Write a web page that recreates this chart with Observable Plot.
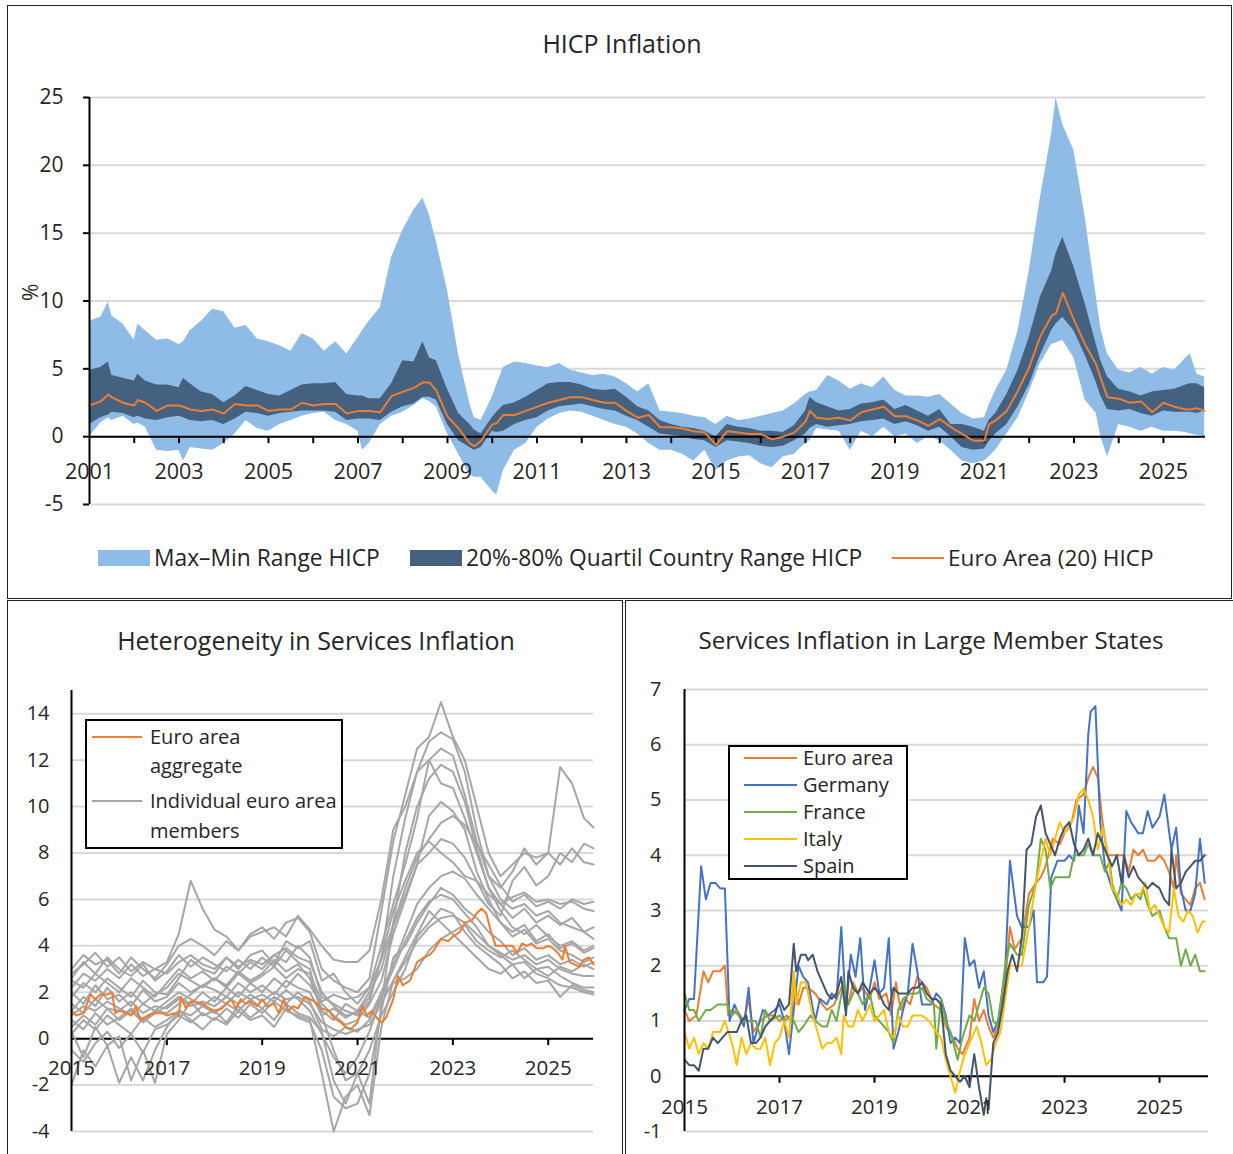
<!DOCTYPE html>
<html><head><meta charset="utf-8">
<script src="https://cdn.jsdelivr.net/npm/d3@7"></script>
<script src="https://cdn.jsdelivr.net/npm/@observablehq/plot@0.6"></script>
<style>
body{margin:0;background:#fff;}
#page{position:relative;width:1233px;height:1154px;overflow:hidden;background:#fff;font-family:'Segoe UI','Open Sans','Noto Sans',sans-serif;color:#262626;}
.abs{position:absolute;}
.box{position:absolute;box-sizing:border-box;border:1px solid #222;}
.txt{position:absolute;white-space:nowrap;}
</style></head>
<body><div id="page"></div>
<script>
// ---------- TOP PANEL: HICP inflation (decimal years) ----------
const topX = [
 2001.0,2001.25,2001.42,2001.5,2001.75,
 2002.0,2002.08,2002.25,2002.5,2002.75,
 2003.0,2003.1,2003.25,2003.5,2003.75,
 2004.0,2004.25,2004.5,2004.75,
 2005.0,2005.25,2005.5,2005.75,
 2006.0,2006.25,2006.5,2006.75,
 2007.0,2007.1,2007.25,2007.5,2007.75,
 2008.0,2008.25,2008.45,2008.6,2008.75,
 2009.0,2009.25,2009.5,2009.6,2009.75,
 2010.0,2010.1,2010.25,2010.5,2010.75,
 2011.0,2011.25,2011.5,2011.75,
 2012.0,2012.25,2012.5,2012.75,
 2013.0,2013.25,2013.5,2013.75,
 2014.0,2014.25,2014.5,2014.75,
 2015.0,2015.25,2015.5,2015.75,
 2016.0,2016.25,2016.5,2016.75,
 2017.0,2017.1,2017.25,2017.5,2017.75,
 2018.0,2018.25,2018.5,2018.75,
 2019.0,2019.25,2019.5,2019.75,
 2020.0,2020.25,2020.5,2020.75,
 2021.0,2021.1,2021.25,2021.5,2021.75,
 2022.0,2022.25,2022.5,2022.6,2022.75,
 2023.0,2023.25,2023.5,2023.6,2023.75,
 2024.0,2024.25,2024.5,2024.75,
 2025.0,2025.25,2025.5,2025.6,2025.75,2025.92];
const topMax = [
 8.5,8.8,9.9,8.9,8.3,
 7.1,8.3,7.8,7.1,7.2,
 6.8,7.0,7.8,8.5,9.4,
 9.2,8.0,8.2,7.2,
 7.0,6.7,6.3,7.6,
 7.2,6.3,7.0,6.1,
 7.3,7.8,8.5,9.5,13.2,
 15.2,16.7,17.6,16.3,14.4,
 10.8,6.0,2.4,1.4,1.2,
 2.9,3.8,5.1,5.5,5.4,
 5.2,5.1,5.4,4.9,
 4.7,4.5,4.6,4.4,
 3.9,3.3,3.9,1.9,
 1.8,1.7,1.5,1.4,
 0.9,1.5,1.2,1.3,
 1.5,1.7,1.9,2.4,
 3.1,3.3,3.4,4.5,4.1,
 3.5,3.9,3.6,4.4,
 3.4,3.0,3.0,2.9,
 3.1,2.4,1.7,1.3,
 1.4,2.3,3.4,4.9,7.8,
 12.2,17.6,22.3,25.0,23.0,
 21.1,16.2,10.3,8.0,6.1,
 4.9,4.7,5.1,4.6,
 5.1,4.9,5.8,6.1,4.6,4.4];
const topP80 = [
 4.9,5.1,5.5,4.5,4.3,
 4.1,4.6,4.1,3.8,3.8,
 3.6,4.3,3.9,3.3,3.1,
 2.5,3.0,3.7,3.4,
 3.1,3.0,3.4,3.8,
 3.9,3.9,4.0,3.1,
 3.0,3.0,2.8,2.8,3.9,
 5.6,5.5,7.0,5.8,5.6,
 3.5,1.7,0.9,0.5,0.2,
 1.4,1.8,2.3,2.5,2.9,
 3.4,3.9,4.0,4.0,
 3.8,3.5,3.4,3.5,
 2.9,2.2,1.9,1.2,
 0.9,0.7,0.6,0.4,
 0.0,0.9,0.7,0.6,
 0.4,0.4,0.3,0.8,
 1.9,2.9,2.5,2.2,1.9,
 2.0,2.4,2.5,2.7,
 2.0,2.3,1.9,1.5,
 2.0,0.9,0.9,0.7,
 0.4,1.2,1.7,3.1,4.9,
 7.3,10.3,12.2,13.5,14.7,
 12.5,9.8,6.8,5.6,4.4,
 3.5,3.3,3.0,3.3,
 3.4,3.5,3.8,3.9,3.9,3.6];
const topEA = [
 2.3,2.6,3.1,2.9,2.5,
 2.3,2.7,2.5,1.9,2.3,
 2.3,2.2,2.0,1.9,2.0,
 1.7,2.4,2.3,2.3,
 1.9,2.0,2.0,2.5,
 2.3,2.4,2.4,1.7,
 1.9,1.9,1.9,1.8,3.0,
 3.3,3.6,4.0,4.0,3.4,
 1.5,0.6,-0.5,-0.7,-0.3,
 0.9,1.0,1.6,1.6,1.9,
 2.2,2.5,2.7,2.9,
 2.9,2.7,2.5,2.5,
 1.9,1.4,1.6,0.7,
 0.7,0.6,0.4,0.3,
 -0.6,0.4,0.3,0.2,
 0.2,-0.2,0.0,0.3,
 1.1,1.9,1.4,1.3,1.4,
 1.2,1.8,2.0,2.2,
 1.5,1.5,1.2,0.8,
 1.3,0.7,0.2,-0.3,
 -0.3,0.9,1.2,1.9,3.4,
 5.1,7.4,8.9,9.1,10.6,
 8.6,6.8,5.3,4.3,2.9,
 2.8,2.5,2.6,1.8,
 2.5,2.2,2.0,2.0,2.1,1.9];
const topP20 = [
 0.9,1.4,1.6,1.8,1.7,
 1.4,1.5,1.3,1.2,1.4,
 1.5,1.4,1.2,1.1,1.2,
 0.9,1.3,1.8,1.7,
 1.5,1.7,1.8,1.9,
 1.9,1.9,1.8,1.2,
 1.3,1.3,1.3,1.2,1.8,
 2.2,2.4,2.9,2.9,2.7,
 0.9,-0.3,-0.8,-1.0,-0.8,
 0.4,0.3,0.4,0.9,1.2,
 1.4,1.9,2.2,2.3,
 2.4,2.2,2.0,1.9,
 1.5,1.2,0.7,0.2,
 0.1,0.0,-0.2,-0.3,
 -0.8,-0.3,-0.4,-0.5,
 -0.7,-0.8,-0.7,-0.3,
 0.2,0.6,0.9,0.7,0.8,
 0.9,1.1,1.2,1.3,
 0.9,1.1,0.8,0.4,
 0.7,0.0,-0.8,-1.0,
 -0.9,-0.4,0.2,0.9,2.2,
 3.8,6.0,7.8,8.3,8.8,
 7.8,6.0,4.0,3.0,2.0,
 1.9,2.0,1.7,1.5,
 1.9,1.8,1.8,1.8,1.7,1.9];
const topMin = [
 0.0,1.0,1.4,1.2,1.5,
 0.9,1.0,0.7,-1.0,-1.1,
 -1.0,-1.8,-0.8,-0.9,-1.0,
 -0.5,0.2,1.2,0.6,
 0.4,0.9,1.2,1.5,
 1.7,1.8,1.2,0.9,
 0.4,-1.0,-0.5,0.9,1.5,
 1.8,2.3,2.8,2.6,2.2,
 0.2,-1.3,-2.8,-3.0,-3.0,
 -4.0,-4.3,-2.5,-1.0,-0.5,
 0.7,1.3,1.7,1.9,
 1.8,1.5,1.2,0.9,
 0.7,0.2,-0.5,-1.0,
 -1.0,-1.3,-1.8,-1.0,
 -2.5,-1.8,-1.5,-1.4,
 -2.0,-2.3,-1.5,-1.3,
 -0.5,-0.3,0.6,0.5,0.4,
 -1.0,0.4,0.0,0.7,
 0.0,0.2,-0.5,0.0,
 -0.3,-1.0,-1.8,-2.0,
 -1.8,-1.5,-1.0,0.2,1.4,
 3.3,5.4,6.8,6.9,7.1,
 5.8,2.7,1.7,0.0,-1.5,
 0.9,0.7,0.4,0.7,
 0.4,0.4,0.3,0.2,0.1,0.0];
const topYTicks = [-5, 0, 5, 10, 15, 20, 25];
const topTickYears = [2002,2003,2004,2005,2006,2007,2008,2009,2010,2011,2012,2013,2014,2015,2016,2017,2018,2019,2020,2021,2022,2023,2024,2025];
const topLabelYears = [2001,2003,2005,2007,2009,2011,2013,2015,2017,2019,2021,2023,2025];

// ---------- BOTTOM: services inflation ----------
const svcYTicksL = [-4,-2,0,2,4,6,8,10,12,14];
const svcYTicksR = [-1,0,1,2,3,4,5,6,7];
const svcLabelYears = [2015,2017,2019,2021,2023,2025];
const svcTickYears = [2017,2019,2021,2023,2025];

// Euro area services inflation [year, %]
const eaServices = [[2015.0,1.2],[2015.1,1.0],[2015.25,1.1],[2015.4,1.9],[2015.5,1.7],[2015.6,1.9],[2015.75,1.9],[2015.85,2.0],[2015.92,1.1],[2016.0,1.2],[2016.15,1.1],[2016.25,1.0],[2016.35,1.4],[2016.45,0.8],[2016.6,1.0],[2016.75,1.1],[2016.9,1.1],[2017.0,1.0],[2017.15,1.1],[2017.25,1.0],[2017.3,1.8],[2017.4,1.3],[2017.5,1.6],[2017.6,1.6],[2017.75,1.5],[2017.9,1.3],[2018.0,1.2],[2018.15,1.3],[2018.25,1.5],[2018.35,1.7],[2018.45,1.3],[2018.55,1.7],[2018.65,1.5],[2018.75,1.6],[2018.9,1.4],[2019.0,1.7],[2019.1,1.4],[2019.25,1.5],[2019.35,1.1],[2019.45,1.7],[2019.55,1.2],[2019.65,1.4],[2019.75,1.3],[2019.9,1.8],[2020.0,1.7],[2020.1,1.6],[2020.25,1.3],[2020.4,1.2],[2020.5,0.9],[2020.65,0.7],[2020.75,0.5],[2020.85,0.4],[2021.0,0.7],[2021.1,1.4],[2021.2,1.0],[2021.3,1.2],[2021.4,0.9],[2021.5,0.7],[2021.6,0.9],[2021.75,1.7],[2021.85,2.7],[2021.95,2.3],[2022.1,2.5],[2022.25,3.3],[2022.4,3.5],[2022.5,3.6],[2022.6,3.8],[2022.75,4.3],[2022.9,4.2],[2023.0,4.4],[2023.15,4.6],[2023.25,5.0],[2023.4,5.1],[2023.5,5.4],[2023.6,5.6],[2023.7,5.4],[2023.8,4.6],[2023.9,4.0],[2024.0,4.0],[2024.25,4.0],[2024.35,3.7],[2024.45,4.1],[2024.55,4.0],[2024.65,4.1],[2024.75,3.9],[2024.9,3.9],[2025.0,4.0],[2025.1,3.9],[2025.2,3.7],[2025.3,3.4],[2025.35,4.0],[2025.45,3.3],[2025.55,3.2],[2025.65,3.1],[2025.75,3.4],[2025.85,3.5],[2025.95,3.2]];

// Individual members: quarterly 2015Q1..2025Q4 + Dec 2025
const memberX = [2015,2015.25,2015.5,2015.75,2016,2016.25,2016.5,2016.75,2017,2017.25,2017.5,2017.75,2018,2018.25,2018.5,2018.75,2019,2019.25,2019.5,2019.75,2020,2020.25,2020.5,2020.75,2021,2021.25,2021.5,2021.75,2022,2022.25,2022.5,2022.75,2023,2023.25,2023.5,2023.75,2024,2024.25,2024.5,2024.75,2025,2025.25,2025.5,2025.75,2025.95];
const member01 = [3.0,3.6,3.2,3.4, 2.8,3.5,3.0,2.6, 3.2,4.0,4.3,4.0, 3.6,4.2,3.8,4.5, 4.8,4.3,5.0,5.2, 4.6,3.0,2.5,2.2, 2.0,2.6,5.5,8.5, 10.5,12.5,13.0,14.5, 13.0,12.0,10.0,8.0, 7.0,7.5,8.0,7.8, 8.0,7.5,8.2,7.6, 7.5];
const member02 = [2.5,2.2,2.8,2.4, 2.0,2.6,2.2,1.8, 2.4,3.0,2.6,2.9, 2.5,3.1,2.8,3.3, 3.0,3.6,3.3,4.0, 3.5,1.8,1.5,1.2, 1.0,1.6,3.5,7.0, 9.5,11.5,12.8,13.2, 12.9,11.5,9.0,7.0, 6.0,5.6,5.8,5.3, 5.5,5.0,4.8,4.6, 4.3];
const member03 = [1.8,2.4,2.0,2.6, 2.2,1.8,2.5,2.0, 1.9,2.6,3.4,3.0, 2.8,3.5,3.0,3.6, 3.8,3.2,4.2,3.9, 4.2,2.5,2.8,2.0, 1.5,2.2,4.0,5.8, 7.5,9.5,12.0,12.5, 12.2,10.5,8.5,7.0, 6.5,7.2,8.2,7.5, 8.0,11.7,11.0,9.5, 9.1];
const member04 = [2.8,3.2,3.7,3.1, 3.5,2.9,3.3,3.0, 3.3,4.5,6.8,5.6, 4.7,4.4,3.8,4.4, 4.6,4.8,4.4,5.3, 4.7,4.0,3.4,3.3, 3.3,3.8,6.0,9.0, 10.0,11.5,12.0,11.0, 10.8,9.5,8.0,6.5, 5.8,5.2,5.6,5.0, 5.3,4.9,5.2,4.6, 4.8];
const member05 = [1.2,1.8,1.4,2.2, 1.6,2.0,1.5,1.9, 2.2,2.8,2.5,2.2, 2.6,2.3,2.9,2.5, 2.8,3.4,2.9,3.2, 2.6,1.2,0.8,1.5, 1.2,2.0,3.0,4.8, 6.2,7.5,9.6,10.2, 9.8,9.0,7.2,6.0, 5.0,4.6,4.9,4.2, 4.5,3.9,4.1,3.7, 3.9];
const member06 = [0.5,1.0,0.6,1.3, 0.8,1.2,0.7,1.1, 1.4,1.8,1.5,2.0, 1.6,2.2,1.8,2.4, 2.0,2.6,2.2,2.8, 2.3,1.5,1.0,0.6, 0.8,1.5,2.5,4.5, 6.0,7.5,8.0,8.6, 8.4,7.8,6.8,5.8, 5.3,6.8,7.4,6.6, 7.0,8.0,7.6,8.4, 8.2];
const member07 = [2.0,1.5,2.3,1.7, 1.9,1.4,2.1,1.6, 1.8,2.4,2.0,2.3, 2.1,1.8,2.4,2.0, 2.3,1.9,2.5,2.2, 2.0,1.0,1.3,0.9, 1.2,0.9,2.0,3.2, 4.5,5.8,6.5,7.0, 7.2,6.9,6.2,5.6, 5.0,4.4,4.7,4.1, 4.3,3.8,3.6,3.3, 3.5];
const member08 = [0.2,0.8,0.4,1.0, 0.6,0.2,0.9,0.5, 0.8,1.2,1.0,1.4, 1.1,1.5,1.2,1.7, 1.3,1.8,1.5,2.0, 1.6,0.4,0.1,0.5, 0.3,0.8,1.8,3.0, 4.2,5.2,5.9,6.2, 6.0,5.4,4.8,4.0, 3.6,3.2,3.3,2.8, 2.6,2.3,2.2,2.0, 1.9];
const member09 = [-0.5,-1.0,-0.2,0.3, -0.4,0.2,-0.6,0.4, 0.6,1.0,0.7,1.1, 0.8,1.3,0.9,1.5, 1.1,1.6,1.2,1.0, 0.8,-1.5,-4.0,-2.5, -2.0,-3.3,0.5,2.5, 3.5,4.5,5.5,5.0, 4.5,4.0,3.5,3.0, 2.8,3.2,2.6,3.0, 2.7,3.1,2.9,3.2, 3.0];
const member10 = [-2.0,-0.5,-1.2,-0.3, -1.9,-0.8,-1.8,-0.5, 0.5,1.2,0.8,0.4, 0.9,0.6,1.2,0.8, 1.0,0.5,1.3,0.9, 0.7,-0.5,-2.5,-3.0, -2.8,-1.5,1.2,3.5, 4.0,5.0,5.8,6.5, 6.2,5.6,5.2,4.6, 4.2,3.6,3.9,3.4, 3.6,3.2,3.4,3.1, 3.3];
const member11 = [1.5,1.1,1.7,1.3, 1.2,1.6,1.1,1.4, 1.3,1.7,1.4,1.6, 1.4,1.8,1.5,1.9, 1.6,2.0,1.7,1.8, 1.5,0.7,0.4,0.2, 0.4,0.6,1.5,2.5, 3.3,4.2,4.8,5.2, 5.3,5.0,4.5,4.0, 3.7,3.4,3.6,3.2, 3.4,3.0,2.8,2.7, 2.7];
const member12 = [2.2,2.8,2.5,3.0, 2.6,3.2,2.7,3.0, 2.8,3.3,3.6,3.2, 3.0,3.5,3.1,3.4, 3.2,3.6,3.9,3.5, 3.3,2.0,1.4,1.0, 1.1,1.8,3.5,5.5, 6.8,8.0,8.5,8.0, 7.6,7.0,6.8,6.2, 5.8,6.1,6.3,5.9, 6.0,5.8,5.9,5.6, 5.5];
const member13 = [1.0,1.4,1.2,1.6, 1.3,1.0,1.5,1.2, 1.6,2.0,1.7,1.4, 1.8,1.5,2.0,1.7, 1.9,1.6,2.1,1.7, 1.2,0.2,-0.8,-1.5, -0.8,0.3,1.8,2.4, 2.6,3.0,3.8,4.3, 4.6,4.9,4.2,3.8, 3.5,3.8,3.4,3.0, 3.1,2.7,2.4,2.2, 2.2];
const member14 = [0.8,0.4,1.1,0.6, 0.9,1.3,0.8,1.2, 1.1,1.5,1.9,2.3, 2.6,2.2,2.8,2.4, 2.7,3.1,2.6,3.0, 2.8,1.6,1.9,1.7, 1.8,2.2,3.4,4.9, 6.5,7.8,8.6,9.3, 9.6,9.2,8.4,7.5, 6.6,5.9,6.2,5.7, 5.9,5.6,6.0,5.8, 5.9];
const member15 = [2.6,3.3,2.8,3.5, 3.0,2.7,3.2,2.5, 2.9,3.6,3.1,3.5, 3.2,2.9,3.4,3.0, 3.5,3.1,3.8,3.3, 3.0,1.0,-0.5,-1.8, -1.5,-2.8,1.5,5.0, 8.0,10.0,11.2,11.8, 11.5,10.2,8.2,6.5, 5.5,4.8,4.5,4.9, 4.4,4.0,4.2,3.8, 4.0];
const member16 = [0.3,-0.8,0.5,-0.3, 0.1,-1.8,-0.5,-1.9, 0.2,0.8,1.6,1.0, 1.2,0.7,1.4,0.9, 1.3,0.8,1.5,1.1, 0.9,0.3,-1.8,-2.8, -1.5,-0.5,1.0,2.0, 3.0,4.4,5.0,5.6, 5.4,4.6,4.0,3.6, 3.2,2.6,2.9,2.4, 2.5,1.8,2.3,2.1, 2.0];
const members = [member01,member02,member03,member04,member05,member06,member07,member08,member09,member10,member11,member12,member13,member14,member15,member16];

// Large member states [year, %]
const germany = [[2015.0,1.2],[2015.1,1.4],[2015.2,1.4],[2015.35,3.8],[2015.45,3.2],[2015.55,3.5],[2015.65,3.5],[2015.75,3.4],[2015.85,3.4],[2015.95,1.0],[2016.05,1.3],[2016.15,1.1],[2016.25,0.9],[2016.35,1.6],[2016.45,0.6],[2016.55,0.9],[2016.65,1.2],[2016.75,1.1],[2016.9,1.2],[2017.0,1.3],[2017.1,1.0],[2017.2,0.4],[2017.3,1.2],[2017.4,2.0],[2017.5,1.8],[2017.6,1.7],[2017.75,1.0],[2017.85,1.4],[2018.0,1.3],[2018.1,1.5],[2018.2,1.4],[2018.3,2.7],[2018.4,1.2],[2018.5,2.2],[2018.6,1.8],[2018.7,2.5],[2018.8,1.2],[2018.9,1.6],[2019.0,2.1],[2019.1,1.5],[2019.2,1.6],[2019.3,2.5],[2019.4,0.5],[2019.5,0.8],[2019.6,1.2],[2019.7,1.5],[2019.8,2.4],[2019.9,1.9],[2020.0,1.3],[2020.2,1.3],[2020.3,1.5],[2020.4,1.4],[2020.5,1.1],[2020.6,0.6],[2020.7,0.7],[2020.8,0.6],[2020.9,2.5],[2021.0,2.0],[2021.1,2.1],[2021.2,1.6],[2021.3,1.9],[2021.4,1.1],[2021.5,0.8],[2021.6,1.0],[2021.75,1.9],[2021.85,3.9],[2022.0,2.9],[2022.1,2.7],[2022.25,2.7],[2022.35,3.0],[2022.42,1.7],[2022.55,1.7],[2022.63,1.8],[2022.72,3.6],[2022.85,3.9],[2023.0,3.9],[2023.1,4.0],[2023.2,3.9],[2023.3,4.9],[2023.4,4.4],[2023.5,6.2],[2023.55,6.6],[2023.65,6.7],[2023.75,4.6],[2023.85,3.8],[2024.0,3.4],[2024.1,3.2],[2024.2,3.0],[2024.3,4.8],[2024.4,4.6],[2024.55,4.4],[2024.65,4.4],[2024.75,4.8],[2024.85,4.5],[2025.0,4.7],[2025.1,5.1],[2025.25,4.1],[2025.35,4.5],[2025.45,3.4],[2025.55,3.0],[2025.65,3.0],[2025.75,3.3],[2025.85,4.3],[2025.95,3.5]];
const france = [[2015.0,1.5],[2015.1,1.2],[2015.2,1.2],[2015.3,1.0],[2015.45,1.2],[2015.55,1.2],[2015.7,1.3],[2015.9,1.3],[2016.0,1.1],[2016.1,1.2],[2016.25,1.0],[2016.4,1.0],[2016.5,1.0],[2016.6,0.7],[2016.7,1.2],[2016.8,1.0],[2017.0,1.1],[2017.1,1.0],[2017.25,1.1],[2017.4,0.8],[2017.5,0.9],[2017.65,1.1],[2017.75,1.0],[2017.9,0.9],[2018.0,0.9],[2018.1,1.2],[2018.2,1.0],[2018.35,1.7],[2018.45,1.3],[2018.6,1.6],[2018.75,1.3],[2018.9,1.5],[2019.0,1.1],[2019.1,1.0],[2019.2,0.9],[2019.3,0.8],[2019.4,0.6],[2019.5,1.2],[2019.6,1.4],[2019.75,1.5],[2019.9,1.5],[2020.0,1.6],[2020.1,1.4],[2020.25,1.3],[2020.3,0.5],[2020.4,1.4],[2020.5,1.0],[2020.6,0.8],[2020.75,0.3],[2020.85,0.7],[2021.0,1.1],[2021.1,1.0],[2021.2,1.3],[2021.3,1.6],[2021.4,1.5],[2021.5,1.0],[2021.6,0.9],[2021.75,2.0],[2021.85,2.4],[2022.0,2.2],[2022.1,2.2],[2022.25,3.1],[2022.4,3.5],[2022.5,4.3],[2022.6,4.1],[2022.7,3.4],[2022.8,3.6],[2023.0,3.6],[2023.1,3.6],[2023.2,4.0],[2023.4,4.0],[2023.5,4.2],[2023.6,4.0],[2023.75,4.0],[2023.85,3.7],[2023.95,3.9],[2024.0,3.5],[2024.1,3.2],[2024.2,3.5],[2024.3,3.4],[2024.4,3.2],[2024.5,3.3],[2024.6,3.2],[2024.65,3.4],[2024.75,3.1],[2024.85,2.9],[2025.0,3.0],[2025.1,2.7],[2025.2,2.5],[2025.35,2.5],[2025.45,2.0],[2025.55,2.3],[2025.65,2.0],[2025.75,2.2],[2025.85,1.9],[2025.95,1.9]];
const italy = [[2015.0,0.8],[2015.1,0.5],[2015.2,0.7],[2015.3,0.4],[2015.4,0.6],[2015.5,0.5],[2015.6,0.8],[2015.75,0.8],[2015.85,1.0],[2016.0,0.6],[2016.1,0.2],[2016.2,0.7],[2016.3,0.4],[2016.4,0.6],[2016.5,0.5],[2016.6,0.5],[2016.7,0.7],[2016.8,0.2],[2016.9,0.6],[2017.0,0.7],[2017.1,1.0],[2017.2,0.7],[2017.3,1.9],[2017.35,1.3],[2017.45,1.7],[2017.55,1.7],[2017.7,1.1],[2017.8,0.8],[2017.9,0.5],[2018.0,0.6],[2018.1,0.6],[2018.2,0.7],[2018.3,0.4],[2018.35,1.1],[2018.45,0.9],[2018.55,0.9],[2018.65,1.2],[2018.75,1.0],[2018.9,1.3],[2019.0,1.0],[2019.1,1.1],[2019.2,1.2],[2019.3,0.8],[2019.4,0.7],[2019.5,1.1],[2019.6,0.9],[2019.7,0.9],[2019.8,1.1],[2020.0,1.1],[2020.15,1.0],[2020.3,0.8],[2020.4,0.7],[2020.5,0.3],[2020.6,0.0],[2020.7,-0.3],[2020.8,0.1],[2020.9,0.4],[2021.0,0.6],[2021.15,0.9],[2021.25,0.6],[2021.35,0.2],[2021.45,0.3],[2021.55,0.6],[2021.65,0.8],[2021.75,1.4],[2021.85,2.0],[2022.0,2.0],[2022.1,2.0],[2022.25,2.7],[2022.4,3.5],[2022.5,3.9],[2022.6,4.3],[2022.7,4.0],[2022.8,4.3],[2022.9,4.6],[2023.0,4.4],[2023.1,4.5],[2023.2,4.7],[2023.3,5.1],[2023.4,5.2],[2023.5,5.0],[2023.6,4.7],[2023.7,4.1],[2023.8,4.5],[2023.9,4.1],[2024.0,3.4],[2024.1,3.3],[2024.2,3.1],[2024.3,3.2],[2024.4,3.1],[2024.5,3.3],[2024.6,3.3],[2024.7,3.5],[2024.8,3.0],[2024.9,3.1],[2025.0,2.9],[2025.1,2.7],[2025.2,2.6],[2025.3,3.4],[2025.4,2.9],[2025.5,2.8],[2025.6,3.0],[2025.7,2.9],[2025.8,2.6],[2025.9,2.8],[2025.95,2.8]];
const spain = [[2015.0,0.3],[2015.1,0.2],[2015.2,0.2],[2015.3,0.1],[2015.4,0.5],[2015.5,0.5],[2015.6,0.7],[2015.7,0.6],[2015.8,0.7],[2015.9,0.8],[2016.0,0.8],[2016.1,0.8],[2016.2,1.0],[2016.3,1.1],[2016.4,0.6],[2016.5,0.6],[2016.6,0.7],[2016.7,0.9],[2016.8,1.0],[2016.9,1.1],[2017.0,1.4],[2017.1,1.2],[2017.2,1.3],[2017.3,2.4],[2017.35,1.9],[2017.45,2.2],[2017.55,2.2],[2017.6,2.1],[2017.7,2.2],[2017.8,1.9],[2017.9,1.7],[2018.0,1.5],[2018.1,1.4],[2018.2,1.5],[2018.3,1.8],[2018.4,1.1],[2018.45,1.9],[2018.55,1.6],[2018.65,1.5],[2018.75,1.7],[2018.9,1.5],[2019.0,1.6],[2019.1,1.5],[2019.2,1.3],[2019.3,1.2],[2019.4,1.6],[2019.5,1.5],[2019.6,1.5],[2019.7,1.5],[2019.8,1.6],[2019.9,1.6],[2020.0,1.7],[2020.1,1.5],[2020.2,1.4],[2020.3,1.4],[2020.4,1.3],[2020.5,0.4],[2020.6,0.1],[2020.7,0.0],[2020.8,-0.1],[2020.9,0.0],[2021.0,-0.2],[2021.1,0.4],[2021.2,-0.2],[2021.3,-0.7],[2021.35,-0.4],[2021.4,-0.6],[2021.5,0.6],[2021.6,0.8],[2021.7,1.3],[2021.8,1.9],[2021.9,2.2],[2022.0,1.9],[2022.1,2.5],[2022.2,4.1],[2022.3,4.2],[2022.4,4.7],[2022.5,4.9],[2022.6,4.4],[2022.7,4.2],[2022.8,4.0],[2022.9,4.3],[2023.0,4.5],[2023.1,4.6],[2023.2,4.2],[2023.3,4.0],[2023.4,4.1],[2023.5,4.3],[2023.6,4.0],[2023.7,4.4],[2023.8,4.2],[2023.9,4.0],[2024.0,3.8],[2024.1,4.0],[2024.2,3.5],[2024.25,4.0],[2024.35,3.6],[2024.45,3.8],[2024.55,3.6],[2024.65,3.5],[2024.75,3.4],[2024.85,3.5],[2025.0,3.4],[2025.1,3.2],[2025.2,3.1],[2025.25,4.1],[2025.35,3.4],[2025.45,3.5],[2025.55,3.7],[2025.65,3.8],[2025.75,3.9],[2025.85,3.9],[2025.95,4.0]];
const largeNames = ["Euro area","Germany","France","Italy","Spain"];
const largeColors = ["#ed7d31","#4472c4","#70ad47","#ffc000","#44546a"];

// ---------- rendering ----------
const FONT = "'Segoe UI','Open Sans','Noto Sans',sans-serif";
const TXT = "#262626";
const LIGHT = "#8fbbe7", DARK = "#44617f", ORANGE = "#ed7d31", GRID = "#d9d9d9", GREY = "#a6a6a6";
const page = document.getElementById("page");
[topMax,topP80,topEA,topP20,topMin].forEach(a => { if (a.length !== topX.length) throw new Error("length mismatch " + a.length + " vs " + topX.length); });
members.forEach(a => { if (a.length !== memberX.length) throw new Error("member length mismatch " + a.length); });
const plain = d => String(d);

function put(el, left, top) { el.style.position = "absolute"; el.style.left = left + "px"; el.style.top = top + "px"; page.appendChild(el); return el; }
function div(cls, css, text) { const d = document.createElement("div"); d.className = cls; d.style.cssText = css; if (text != null) d.textContent = text; page.appendChild(d); return d; }
function label(text, left, centerY, size) { return div("txt", `left:${left}px;top:${centerY - size*0.7}px;font-size:${size}px;line-height:${size*1.4}px;`, text); }
function title(text, cx, cy, size) { return div("txt", `left:${cx-400}px;width:800px;text-align:center;top:${cy - size*0.7}px;font-size:${size}px;line-height:${size*1.4}px;`, text); }

// Top chart
const rows = topX.map((x, i) => ({x, lo: topMin[i], hi: topMax[i], p20: topP20[i], p80: topP80[i], ea: topEA[i]}));
const topChart = Plot.plot({
  width: 1233, height: 460, marginLeft: 89, marginRight: 28, marginTop: 27, marginBottom: 26,
  x: {domain: [2001, 2025.94], axis: null},
  y: {domain: [-5, 25], axis: null},
  style: {fontFamily: FONT, fontSize: "21px", color: TXT, background: "transparent", overflow: "visible"},
  marks: [
    Plot.ruleY(topYTicks, {stroke: GRID, strokeWidth: 2}),
    Plot.areaY(rows, {x: "x", y1: "lo", y2: "hi", fill: LIGHT}),
    Plot.areaY(rows, {x: "x", y1: "p20", y2: "p80", fill: DARK}),
    Plot.ruleY([0], {stroke: "#000", strokeWidth: 2}),
    Plot.ruleX(topTickYears, {x: d => d, y1: 0, y2: 0, insetBottom: -7, stroke: "#000", strokeWidth: 2}),
    Plot.line(rows, {x: "x", y: "ea", stroke: ORANGE, strokeWidth: 2}),
    Plot.ruleX([2001], {stroke: "#000", strokeWidth: 2}),
    Plot.axisY(topYTicks, {tickSize: 6, tickPadding: 20, tickFormat: plain, label: null, stroke: "#000", strokeWidth: 2, fill: TXT, fontSize: 21}),
    Plot.text(topLabelYears, {x: d => d, y: 0, dy: 35, text: plain, fill: TXT, fontSize: 21.5}),
    Plot.text(["%"], {frameAnchor: "left", dx: -58, rotate: -90, fill: TXT, fontSize: 21})
  ]
});
put(topChart, 0, 70);

// Bottom-left chart
const memberRows = [];
members.forEach((s, k) => s.forEach((v, i) => memberRows.push({x: memberX[i], y: v, s: k})));
const blChart = Plot.plot({
  width: 622, height: 480, marginLeft: 71, marginRight: 29, marginTop: 20, marginBottom: 19,
  x: {domain: [2015, 2025.95], axis: null},
  y: {domain: [-4, 15], axis: null},
  style: {fontFamily: FONT, fontSize: "20px", color: TXT, background: "transparent", overflow: "visible"},
  marks: [
    Plot.ruleY(svcYTicksL, {stroke: GRID, strokeWidth: 2}),
    Plot.ruleY([0], {stroke: "#000", strokeWidth: 2}),
    Plot.ruleX(svcTickYears, {x: d => d, y1: 0, y2: 0, insetBottom: -7, stroke: "#000", strokeWidth: 2}),
    Plot.line(memberRows, {x: "x", y: "y", z: "s", stroke: GREY, strokeWidth: 2}),
    Plot.line(eaServices, {x: d => d[0], y: d => d[1], stroke: ORANGE, strokeWidth: 2}),
    Plot.ruleX([2015], {stroke: "#000", strokeWidth: 2}),
    Plot.axisY(svcYTicksL, {tickSize: 0, tickPadding: 22, tickFormat: plain, label: null, fill: TXT, fontSize: 20}),
    Plot.text(svcLabelYears, {x: d => d, y: 0, dy: 30, text: plain, fill: TXT, fontSize: 20.5})
  ]
});
put(blChart, 0, 670);

// Bottom-right chart
const largeSeries = [eaServices, germany, france, italy, spain];
const brChart = Plot.plot({
  width: 608, height: 480, marginLeft: 59, marginRight: 25, marginTop: 19, marginBottom: 19,
  x: {domain: [2015, 2026.03], axis: null},
  y: {domain: [-1, 7], axis: null},
  style: {fontFamily: FONT, fontSize: "20px", color: TXT, background: "transparent", overflow: "visible"},
  marks: [
    Plot.ruleY(svcYTicksR, {stroke: GRID, strokeWidth: 2}),
    Plot.ruleY([0], {stroke: "#000", strokeWidth: 2}),
    Plot.ruleX(svcTickYears, {x: d => d, y1: 0, y2: 0, insetBottom: -7, stroke: "#000", strokeWidth: 2}),
    ...largeSeries.map((s, k) => Plot.line(s, {x: d => d[0], y: d => d[1], stroke: largeColors[k], strokeWidth: 2})),
    Plot.ruleX([2015], {stroke: "#000", strokeWidth: 2}),
    Plot.axisY(svcYTicksR, {tickSize: 0, tickPadding: 23, tickFormat: plain, label: null, fill: TXT, fontSize: 20}),
    Plot.text(svcLabelYears, {x: d => d, y: 0, dy: 31, text: plain, fill: TXT, fontSize: 20.5})
  ]
});
put(brChart, 625, 670);

// Panel borders
div("box", "left:7px;top:5px;width:1225px;height:594px;");
div("box", "left:7px;top:600px;width:616px;height:560px;");
div("box", "left:625px;top:600px;width:612px;height:560px;");

// Titles
title("HICP Inflation", 622, 43, 25);
title("Heterogeneity in Services Inflation", 316, 640, 25);
title("Services Inflation in Large Member States", 931, 640, 24.2);

// Top legend
div("abs", `left:98px;top:550px;width:52px;height:16px;background:${LIGHT};`);
label("Max\u2013Min Range HICP", 154, 558, 22.8);
div("abs", `left:410px;top:550px;width:52px;height:16px;background:${DARK};`);
label("20%-80% Quartil Country Range HICP", 466, 558, 22.8);
div("abs", `left:892px;top:557px;width:52px;height:2px;background:${ORANGE};`);
label("Euro Area (20) HICP", 948, 558, 22.6);

// Bottom-left legend
div("abs", "left:85px;top:719px;width:258px;height:130px;border:2px solid #000;box-sizing:border-box;background:#fff;");
div("abs", `left:92px;top:736px;width:50px;height:2px;background:${ORANGE};`);
label("Euro area", 150, 737, 20);
label("aggregate", 150, 766, 20);
div("abs", `left:92px;top:800px;width:50px;height:2px;background:${GREY};`);
label("Individual euro area", 150, 801, 20);
label("members", 150, 831, 20);

// Bottom-right legend
div("abs", "left:728px;top:745px;width:180px;height:135px;border:2px solid #000;box-sizing:border-box;background:#fff;");
largeNames.forEach((n, k) => {
  const cy = 758 + k * 27;
  div("abs", `left:744px;top:${cy - 1}px;width:53px;height:2px;background:${largeColors[k]};`);
  label(n, 803, cy, 20);
});
</script>
</body></html>
